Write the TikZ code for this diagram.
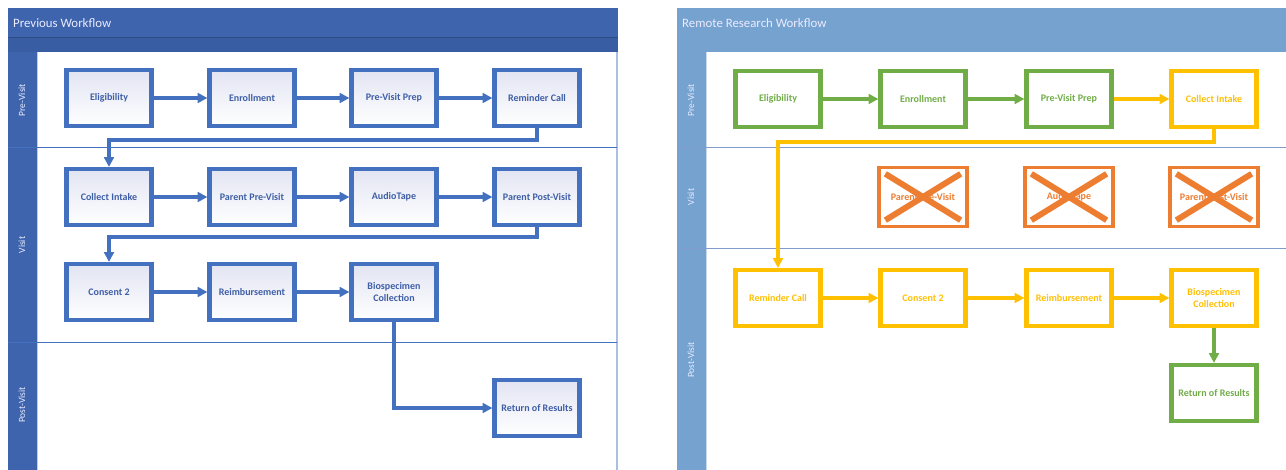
\documentclass[tikz,border=0pt]{standalone}
\usepackage{fontspec}
\setmainfont{Carlito}
\usetikzlibrary{arrows.meta}
\definecolor{oldhead}{RGB}{61, 100, 173}
\definecolor{oldband}{RGB}{57, 93, 163}
\definecolor{oldline}{RGB}{68, 112, 192}
\definecolor{oldtext}{RGB}{62, 94, 166}
\definecolor{oldfill}{RGB}{226, 228, 243}
\definecolor{newhead}{RGB}{117, 162, 207}
\definecolor{newdiv}{RGB}{127, 156, 204}
\definecolor{ngreen}{RGB}{112, 173, 71}
\definecolor{nyellow}{RGB}{255, 192, 0}
\definecolor{norange}{RGB}{237, 125, 49}

\begin{document}
\begin{tikzpicture}[x=0.02cm, y=-0.02cm,
                    oldbox/.style={draw=oldline, line width=2.4pt, top color=oldfill, bottom color=white, minimum width=1.7cm, minimum height=1.12cm, align=center, text=oldtext, font=\bfseries\fontsize{5.7}{7}\selectfont},
                    newbox/.style={draw=#1, line width=2.4pt, fill=white, minimum width=1.7cm, minimum height=1.12cm, align=center, text=#1, font=\bfseries\fontsize{5.7}{7}\selectfont},
                    gonebox/.style={draw=norange, line width=1.9pt, fill=white, minimum width=1.76cm, minimum height=1.18cm, text=norange, font=\bfseries\fontsize{5.7}{7}\selectfont},
                    cross/.style={draw=norange, line width=3.4pt},
                    oldarrow/.style={draw=oldline, line width=2.2pt, -{Triangle[length=5.5pt,width=5.5pt]}},
                    newarrow/.style={draw=#1, line width=2.2pt, -{Triangle[length=5.5pt,width=5.5pt]}},
                    lane/.style={rotate=90, text=white!92!blue, font=\fontsize{5.4}{6}\selectfont},
                    title/.style={anchor=west, text=white!92!blue, font=\fontsize{7.3}{8}\selectfont}]
                    \useasboundingbox (0,0) rectangle (1286,470);

                    % previous workflow panel
                    \fill[oldhead] (8,8) rectangle (618,37);
                    \fill[oldband] (8,37) rectangle (618,52);
                    \draw[oldband!80!black, line width=0.4pt] (8,37) -- (618,37);
                    \fill[oldhead] (8,52) rectangle (37,470);
                    \draw[oldline!35, line width=0.8pt] (37.5,52) -- (37.5,470);
                    \draw[oldline!45, line width=0.8pt] (617,52) -- (617,470);
                    \draw[oldline, line width=0.5pt] (8,147) -- (617,147);
                    \draw[oldline, line width=0.5pt] (8,342) -- (617,342);
                    \node[title] (oldtitle) at (7,23) {Previous Workflow};
                    \node[lane] (oldpre) at (22,100) {Pre-Visit};
                    \node[lane] (oldvisit) at (22,245) {Visit};
                    \node[lane] (oldpost) at (22,405) {Post-Visit};

                    \node[oldbox] (elig) at (109,98) {Eligibility};
                    \node[oldbox] (enroll) at (252,98) {Enrollment};
                    \node[oldbox] (prep) at (394,98) {Pre-Visit Prep};
                    \node[oldbox] (remind) at (537,98) {Reminder Call};
                    \node[oldbox] (intake) at (109,197) {Collect Intake};
                    \node[oldbox] (ppre) at (252,197) {Parent Pre-Visit};
                    \node[oldbox] (audio) at (394,197) {AudioTape};
                    \node[oldbox] (ppost) at (537,197) {Parent Post-Visit};
                    \node[oldbox] (consent) at (109,292) {Consent 2};
                    \node[oldbox] (reimb) at (252,292) {Reimbursement};
                    \node[oldbox] (bio) at (394,292) {Biospecimen\\Collection};
                    \node[oldbox] (results) at (537,408) {Return of Results};

                    \draw[oldarrow] (elig) -- (enroll);
                    \draw[oldarrow] (enroll) -- (prep);
                    \draw[oldarrow] (prep) -- (remind);
                    \draw[oldarrow] (remind.south) -- ++(0,12) -| (intake.north);
                    \draw[oldarrow] (intake) -- (ppre);
                    \draw[oldarrow] (ppre) -- (audio);
                    \draw[oldarrow] (audio) -- (ppost);
                    \draw[oldarrow] (ppost.south) -- ++(0,10) -| (consent.north);
                    \draw[oldarrow] (consent) -- (reimb);
                    \draw[oldarrow] (reimb) -- (bio);
                    \draw[oldarrow] (bio.south) |- (results.west);

                    % remote research workflow panel
                    \fill[newhead] (677,8) rectangle (1286,52);
                    \fill[newhead] (677,52) rectangle (706,470);
                    \draw[newhead!40, line width=0.8pt] (706.5,52) -- (706.5,470);
                    \draw[newdiv, line width=0.5pt] (677,147) -- (1286,147);
                    \draw[newdiv, line width=0.5pt] (677,248) -- (1286,248);
                    \node[title] (newtitle) at (676,23) {Remote Research Workflow};
                    \node[lane] (newpre) at (691,100) {Pre-Visit};
                    \node[lane] (newvisit) at (691,197) {Visit};
                    \node[lane] (newpost) at (691,360) {Post-Visit};

                    \node[newbox=ngreen] (relig) at (778,99) {Eligibility};
                    \node[newbox=ngreen] (renroll) at (923,99) {Enrollment};
                    \node[newbox=ngreen] (rprep) at (1069,99) {Pre-Visit Prep};
                    \node[newbox=nyellow] (rintake) at (1214,99) {Collect Intake};
                    \node[gonebox] (xpre) at (923,197) {Parent Pre-Visit};
                    \node[gonebox] (xaudio) at (1069,197) {AudioTape};
                    \node[gonebox] (xpost) at (1214,197) {Parent Post-Visit};
                    \node[newbox=nyellow] (rremind) at (778,298) {Reminder Call};
                    \node[newbox=nyellow] (rconsent) at (923,298) {Consent 2};
                    \node[newbox=nyellow] (rreimb) at (1069,298) {Reimbursement};
                    \node[newbox=nyellow] (rbio) at (1214,298) {Biospecimen\\Collection};
                    \node[newbox=ngreen] (rresults) at (1214,393) {Return of Results};

                    % crossed out visit steps
                    \draw[cross] ([shift={(8,8)}]xpre.north west) -- ([shift={(-8,-8)}]xpre.south east);
                    \draw[cross] ([shift={(8,-8)}]xpre.south west) -- ([shift={(-8,8)}]xpre.north east);
                    \draw[cross] ([shift={(8,8)}]xaudio.north west) -- ([shift={(-8,-8)}]xaudio.south east);
                    \draw[cross] ([shift={(8,-8)}]xaudio.south west) -- ([shift={(-8,8)}]xaudio.north east);
                    \draw[cross] ([shift={(8,8)}]xpost.north west) -- ([shift={(-8,-8)}]xpost.south east);
                    \draw[cross] ([shift={(8,-8)}]xpost.south west) -- ([shift={(-8,8)}]xpost.north east);

                    \draw[newarrow=ngreen] (relig) -- (renroll);
                    \draw[newarrow=ngreen] (renroll) -- (rprep);
                    \draw[newarrow=nyellow] (rprep) -- (rintake);
                    \draw[newarrow=nyellow] (rintake.south) -- ++(0,13) -| (rremind.north);
                    \draw[newarrow=nyellow] (rremind) -- (rconsent);
                    \draw[newarrow=nyellow] (rconsent) -- (rreimb);
                    \draw[newarrow=nyellow] (rreimb) -- (rbio);
                    \draw[newarrow=ngreen] (rbio) -- (rresults);
                \end{tikzpicture}
\end{document}
